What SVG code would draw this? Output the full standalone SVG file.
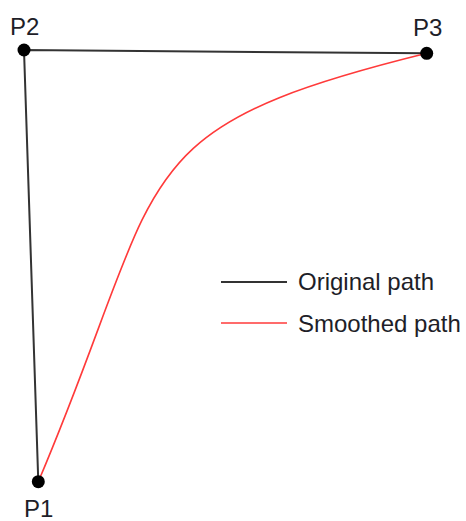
<svg xmlns="http://www.w3.org/2000/svg" width="466" height="521" viewBox="0 0 466 521">
<style>
.lbl{font-family:"Liberation Sans",Arial,sans-serif;font-size:24px;fill:#1e1e28}
.orig{stroke:#333;stroke-width:2;fill:none}
.smooth{stroke:#ff3a3a;stroke-width:1.6;fill:none}
.pt{fill:#000}
</style>
<rect width="466" height="521" fill="#fff"/>
<g id="connectors">
<path class="orig" d="M38.3,481.7 L24,50 L426.7,53.3"/>
<path class="smooth" d="M38.3,481.7 C170,172 116,130 426.7,53.3" id="smoothed"/>
</g>
<g id="P1"><circle class="pt" cx="38.3" cy="481.7" r="6.5"/><text class="lbl" x="24" y="517">P1</text></g>
<g id="P2"><circle class="pt" cx="24" cy="50" r="6.5"/><text class="lbl" x="10" y="35">P2</text></g>
<g id="P3"><circle class="pt" cx="426.7" cy="53.3" r="6.5"/><text class="lbl" x="413" y="36">P3</text></g>
<g id="legend">
<line class="orig" x1="221" y1="282" x2="287" y2="282"/>
<text class="lbl" x="298" y="290">Original path</text>
<line class="smooth" x1="221" y1="323" x2="287" y2="323"/>
<text class="lbl" x="298" y="332">Smoothed path</text>
</g>
</svg>
